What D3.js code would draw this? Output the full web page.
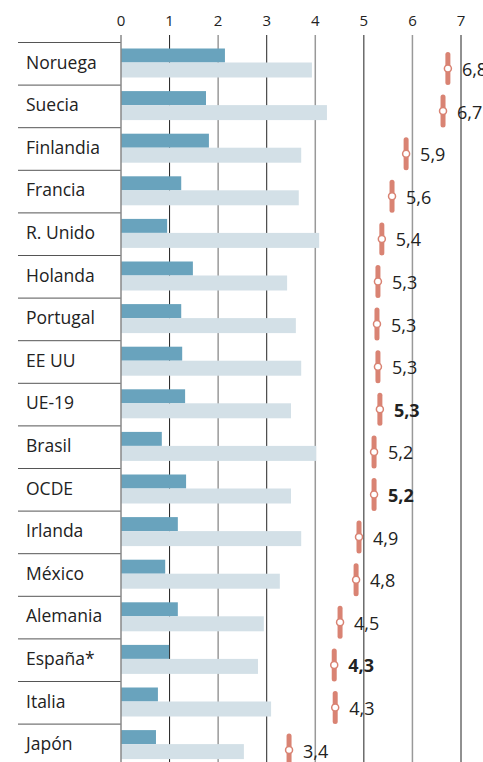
<!DOCTYPE html>
<html>
<head>
<meta charset="utf-8">
<script src="https://cdn.jsdelivr.net/npm/d3@7"></script>
<style>
  body { margin: 0; background: #fff; }
  svg { display: block; font-family: "Open Sans", Lato, sans-serif; }
  .country { font-size: 17.5px; fill: #222; }
  .tickLabel { font-size: 15px; fill: #222; }
  .valueLabel { font-size: 18px; fill: #222; }
</style>
</head>
<body>
<div class="chart"></div>
<script>
// datos
const countries = ["Noruega", "Suecia", "Finlandia", "Francia", "R. Unido", "Holanda", "Portugal", "EE UU",
  "UE-19", "Brasil", "OCDE", "Irlanda", "México", "Alemania", "España*", "Italia", "Japón"];
const darkValues = [2.14, 1.75, 1.81, 1.24, 0.95, 1.48, 1.24, 1.26, 1.32, 0.84, 1.34, 1.17, 0.91, 1.17, 0.99, 0.76, 0.72];
const lightValues = [3.93, 4.24, 3.71, 3.66, 4.08, 3.42, 3.60, 3.71, 3.50, 4.02, 3.50, 3.71, 3.27, 2.94, 2.82, 3.09, 2.53];
const totalValues = [6.73, 6.63, 5.87, 5.58, 5.37, 5.29, 5.27, 5.29, 5.33, 5.21, 5.21, 4.90, 4.84, 4.51, 4.39, 4.41, 3.46];
const totalLabels = ["6,8", "6,7", "5,9", "5,6", "5,4", "5,3", "5,3", "5,3", "5,3", "5,2", "5,2", "4,9", "4,8", "4,5", "4,3", "4,3", "3,4"];
const boldRows = ["UE-19", "OCDE", "España*"];
const ticks = [0, 1, 2, 3, 4, 5, 6, 7];

const width = 483, height = 762;
const labelLeft = 18;
const rowTop = 42.5, rowStep = 42.6;

const svg = d3.select(".chart").append("svg")
  .attr("width", width)
  .attr("height", height);

const x = d3.scaleLinear().domain([0, 7]).range([121, 461]);
const y = d3.scaleBand().domain(countries)
  .range([rowTop, rowTop + rowStep * countries.length])
  .paddingInner(0).paddingOuter(0);

const rows = countries.map((c, i) => ({
  name: c, dark: darkValues[i], light: lightValues[i],
  total: totalValues[i], label: totalLabels[i], bold: boldRows.includes(c)
}));

// gridlines + tick labels
const grid = svg.append("g");
grid.selectAll("line")
  .data(ticks.filter(d => d > 0))
  .enter().append("line")
  .attr("x1", d => x(d)).attr("x2", d => x(d))
  .attr("y1", 35).attr("y2", height)
  .attr("stroke", d => d % 2 ? "#222" : "#999")
  .attr("stroke-width", d => d % 2 ? 1 : 1.5);

grid.selectAll("text")
  .data(ticks)
  .enter().append("text")
  .attr("class", "tickLabel")
  .attr("x", d => x(d))
  .attr("y", 26)
  .attr("text-anchor", "middle")
  .text(d => d);

// row separators in label column
svg.append("g").selectAll("line")
  .data(countries)
  .enter().append("line")
  .attr("x1", labelLeft).attr("x2", x(0))
  .attr("y1", d => y(d)).attr("y2", d => y(d))
  .attr("stroke", "#555").attr("stroke-width", 1);

const row = svg.append("g").selectAll("g")
  .data(rows)
  .enter().append("g")
  .attr("transform", d => `translate(0, ${y(d.name)})`);

row.append("rect")
  .attr("x", x(0))
  .attr("y", 6)
  .attr("width", d => x(d.dark) - x(0))
  .attr("height", 14)
  .attr("fill", "#69a3bd");

row.append("rect")
  .attr("x", x(0))
  .attr("y", 20)
  .attr("width", d => x(d.light) - x(0))
  .attr("height", 15)
  .attr("fill", "#d3e0e7");

row.append("text")
  .attr("class", "country")
  .attr("x", 26)
  .attr("y", 26)
  .text(d => d.name);

row.append("line")
  .attr("x1", d => x(d.total)).attr("x2", d => x(d.total))
  .attr("y1", 12).attr("y2", 40)
  .attr("stroke", "#d98373")
  .attr("stroke-width", 5)
  .attr("stroke-linecap", "round");

row.append("circle")
  .attr("cx", d => x(d.total))
  .attr("cy", 26)
  .attr("r", 3.5)
  .attr("fill", "#fff")
  .attr("stroke", "#d98373")
  .attr("stroke-width", 1.5);

row.append("text")
  .attr("class", "valueLabel")
  .attr("x", d => x(d.total) + 14)
  .attr("y", 33.5)
  .style("font-weight", d => d.bold ? "bold" : "normal")
  .text(d => d.label);

// zero line
svg.append("line")
  .attr("x1", x(0)).attr("x2", x(0))
  .attr("y1", 35).attr("y2", height)
  .attr("stroke", "#888").attr("stroke-width", 1.5);
</script>
</body>
</html>
